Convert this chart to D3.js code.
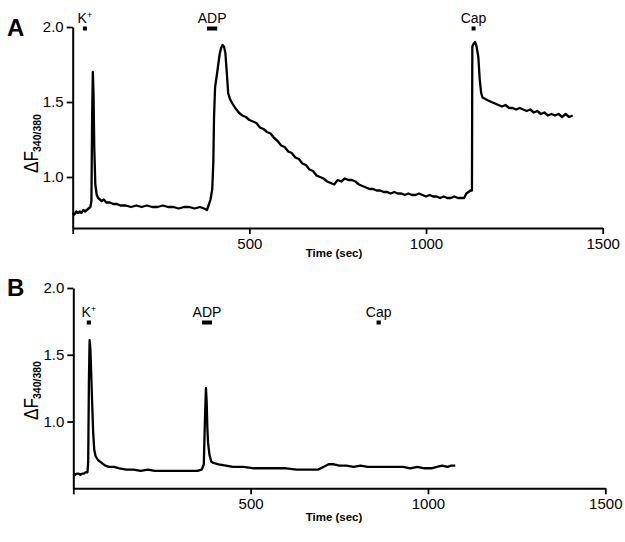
<!DOCTYPE html>
<html><head><meta charset="utf-8">
<script src="https://cdn.jsdelivr.net/npm/d3@7"></script>
<style>
html,body{margin:0;padding:0;background:#fff;}
svg{display:block;font-family:"Liberation Sans",Arial,sans-serif;}
</style></head>
<body><svg id="chart" width="625" height="542"></svg>
<script>
// ---------- DATA ----------
const timeA = [0,5,10,15,20,25,30,35,40,45,50,53,55,57,59,61,64,68,72,77,82,88,95,105,115,125,135,150,165,180,195,210,225,240,255,270,285,300,315,330,345,360,372,380,386,390,395,398,400,403,408,412,416,420,424,428,432,436,440,445,452,460,470,480,490,500,510,520,530,540,550,560,570,580,590,600,610,620,630,640,650,660,670,680,690,700,710,720,730,740,750,760,770,780,790,800,810,820,830,840,850,860,870,880,890,900,910,920,930,940,950,960,970,980,990,1000,1010,1020,1030,1040,1050,1060,1070,1080,1090,1100,1108,1114,1120,1126,1130,1131,1135,1139,1143,1148,1152,1156,1160,1168,1176,1185,1195,1205,1215,1225,1235,1245,1255,1265,1275,1285,1295,1305,1315,1325,1335,1345,1355,1365,1375,1385,1395,1405,1415];
const ratioA = [0.76,0.75,0.77,0.76,0.77,0.76,0.78,0.77,0.78,0.79,0.80,0.84,1.40,1.70,1.55,1.20,0.95,0.88,0.86,0.85,0.84,0.85,0.83,0.83,0.82,0.82,0.81,0.81,0.80,0.81,0.80,0.81,0.80,0.80,0.81,0.80,0.80,0.79,0.80,0.80,0.79,0.80,0.79,0.78,0.82,0.85,0.92,1.10,1.40,1.60,1.68,1.75,1.82,1.86,1.88,1.87,1.83,1.70,1.56,1.52,1.49,1.46,1.43,1.41,1.40,1.38,1.37,1.36,1.33,1.32,1.30,1.29,1.26,1.24,1.21,1.20,1.17,1.16,1.13,1.12,1.09,1.08,1.05,1.04,1.01,1.00,0.99,0.97,0.96,0.95,0.98,0.97,0.99,0.98,0.98,0.97,0.95,0.94,0.93,0.92,0.92,0.91,0.91,0.90,0.90,0.89,0.90,0.89,0.89,0.88,0.89,0.88,0.88,0.89,0.88,0.87,0.88,0.87,0.87,0.86,0.87,0.86,0.86,0.87,0.86,0.86,0.86,0.89,0.90,0.91,0.91,1.87,1.89,1.90,1.87,1.80,1.65,1.56,1.53,1.52,1.51,1.50,1.49,1.48,1.47,1.48,1.46,1.46,1.45,1.46,1.45,1.44,1.45,1.43,1.44,1.42,1.43,1.41,1.42,1.41,1.42,1.40,1.42,1.40,1.41];

const timeB = [0,5,10,15,20,25,30,35,40,42,44,46,48,50,53,56,59,63,70,80,90,100,115,130,150,170,190,210,230,250,270,290,310,330,350,362,368,371,374,376,378,380,384,389,395,410,430,450,480,510,540,570,600,630,660,690,705,720,735,750,770,790,810,830,850,870,890,910,930,950,970,990,1010,1025,1040,1055,1065,1077];
const ratioB = [0.61,0.60,0.61,0.61,0.60,0.61,0.61,0.62,0.62,0.70,1.30,1.61,1.55,1.40,1.15,0.92,0.79,0.74,0.71,0.69,0.67,0.66,0.66,0.65,0.64,0.64,0.63,0.64,0.63,0.63,0.63,0.63,0.63,0.63,0.63,0.64,0.68,1.00,1.25,1.15,0.95,0.84,0.75,0.70,0.69,0.68,0.67,0.66,0.66,0.65,0.65,0.65,0.65,0.64,0.64,0.64,0.66,0.68,0.68,0.67,0.67,0.66,0.67,0.66,0.66,0.66,0.66,0.66,0.66,0.65,0.66,0.65,0.65,0.66,0.67,0.66,0.67,0.67];

const eventNames = ["K", "ADP", "Cap"];
const eventStartA = [29, 380, 1130];
const eventEndA   = [40, 409, 1139];
const eventStartB = [38, 363, 855];
const eventEndB   = [50, 391, 867];

const xTicks = [0, 500, 1000, 1500];
const yTicks = [1.0, 1.5, 2.0];
const xTitle = "Time (sec)";
const panelLetters = ["A", "B"];

// ---------- DRAW ----------
const svg = d3.select("#chart");

function panel(cfg) {
  const g = svg.append("g");
  const x = d3.scaleLinear().domain([0, 1500]).range([cfg.x0, cfg.x1]);
  const y = d3.scaleLinear().domain([cfg.yMin, 2.0]).range([cfg.yBottom, cfg.yTop]);

  const ya = g.append("g").attr("transform", `translate(${cfg.x0},0)`)
    .call(d3.axisLeft(y).tickValues(yTicks).tickFormat(d3.format(".1f")).tickSize(6).tickSizeOuter(0).tickPadding(3));
  const xa = g.append("g").attr("transform", `translate(0,${cfg.yBottom})`)
    .call(d3.axisBottom(x).tickValues(xTicks).tickFormat(d => d === 0 ? "" : d).tickSize(6).tickSizeOuter(0).tickPadding(4));
  [ya, xa].forEach(a => {
    a.select(".domain").attr("stroke", "#000").attr("stroke-width", 2);
    a.selectAll(".tick line").attr("stroke", "#000").attr("stroke-width", 1.8);
    a.selectAll(".tick text").attr("fill", "#000").style("font-size", "15px")
      .style("font-family", '"Liberation Sans",Arial,sans-serif');
  });

  const data = cfg.t.map((t, i) => [t, cfg.v[i]]);
  g.append("path").datum(data)
    .attr("fill", "none").attr("stroke", "#000").attr("stroke-width", 2.3)
    .attr("stroke-linejoin", "round")
    .attr("d", d3.line().x(d => x(d[0])).y(d => y(d[1])));

  eventNames.forEach((name, i) => {
    const s = x(cfg.evS[i]), e = x(cfg.evE[i]);
    const w = Math.max(4, e - s);
    const cx = (s + e) / 2;
    g.append("rect").attr("x", cx - w / 2).attr("y", cfg.markY - 2)
      .attr("width", w).attr("height", 4).attr("fill", "#000");
    const t = g.append("text").attr("x", cx).attr("y", cfg.labY)
      .attr("text-anchor", "middle").style("font-size", "14px").attr("fill", "#000");
    t.append("tspan").text(name);
    if (name === "K") {
      t.append("tspan").text("+").style("font-size", "9px").attr("dy", -5);
    }
  });

  g.append("text").attr("x", cfg.titleX).attr("y", cfg.titleY)
    .attr("text-anchor", "middle").style("font-size", "11.5px").style("font-weight", "bold")
    .text(xTitle);

  const yl = g.append("g").attr("transform", `translate(${cfg.ylabX},${cfg.ylabY}) rotate(-90)`);
  yl.append("text").attr("x", 0).attr("y", 0).attr("transform", "scale(0.82,1)")
    .style("font-size", "21px").attr("fill", "#000").text("ΔF");
  yl.append("text").attr("x", 21).attr("y", 3)
    .style("font-size", "10.5px").style("font-weight", "bold").attr("fill", "#000").text("340/380");

  svg.append("text").attr("x", 7).attr("y", cfg.letterY)
    .style("font-size", "24px").style("font-weight", "bold").text(cfg.letter);
}

panel({
  letter: panelLetters[0], letterY: 36,
  x0: 72.7, x1: 602.7, yTop: 27, yBottom: 228, yMin: 0.66,
  t: timeA, v: ratioA, evS: eventStartA, evE: eventEndA,
  markY: 28.5, labY: 23, titleX: 334, titleY: 257,
  ylabX: 38, ylabY: 173
});
panel({
  letter: panelLetters[1], letterY: 296,
  x0: 73.3, x1: 605.3, yTop: 288, yBottom: 488.3, yMin: 0.5,
  t: timeB, v: ratioB, evS: eventStartB, evE: eventEndB,
  markY: 322.5, labY: 317, titleX: 334, titleY: 521,
  ylabX: 38, ylabY: 420
});
</script>
</body></html>
